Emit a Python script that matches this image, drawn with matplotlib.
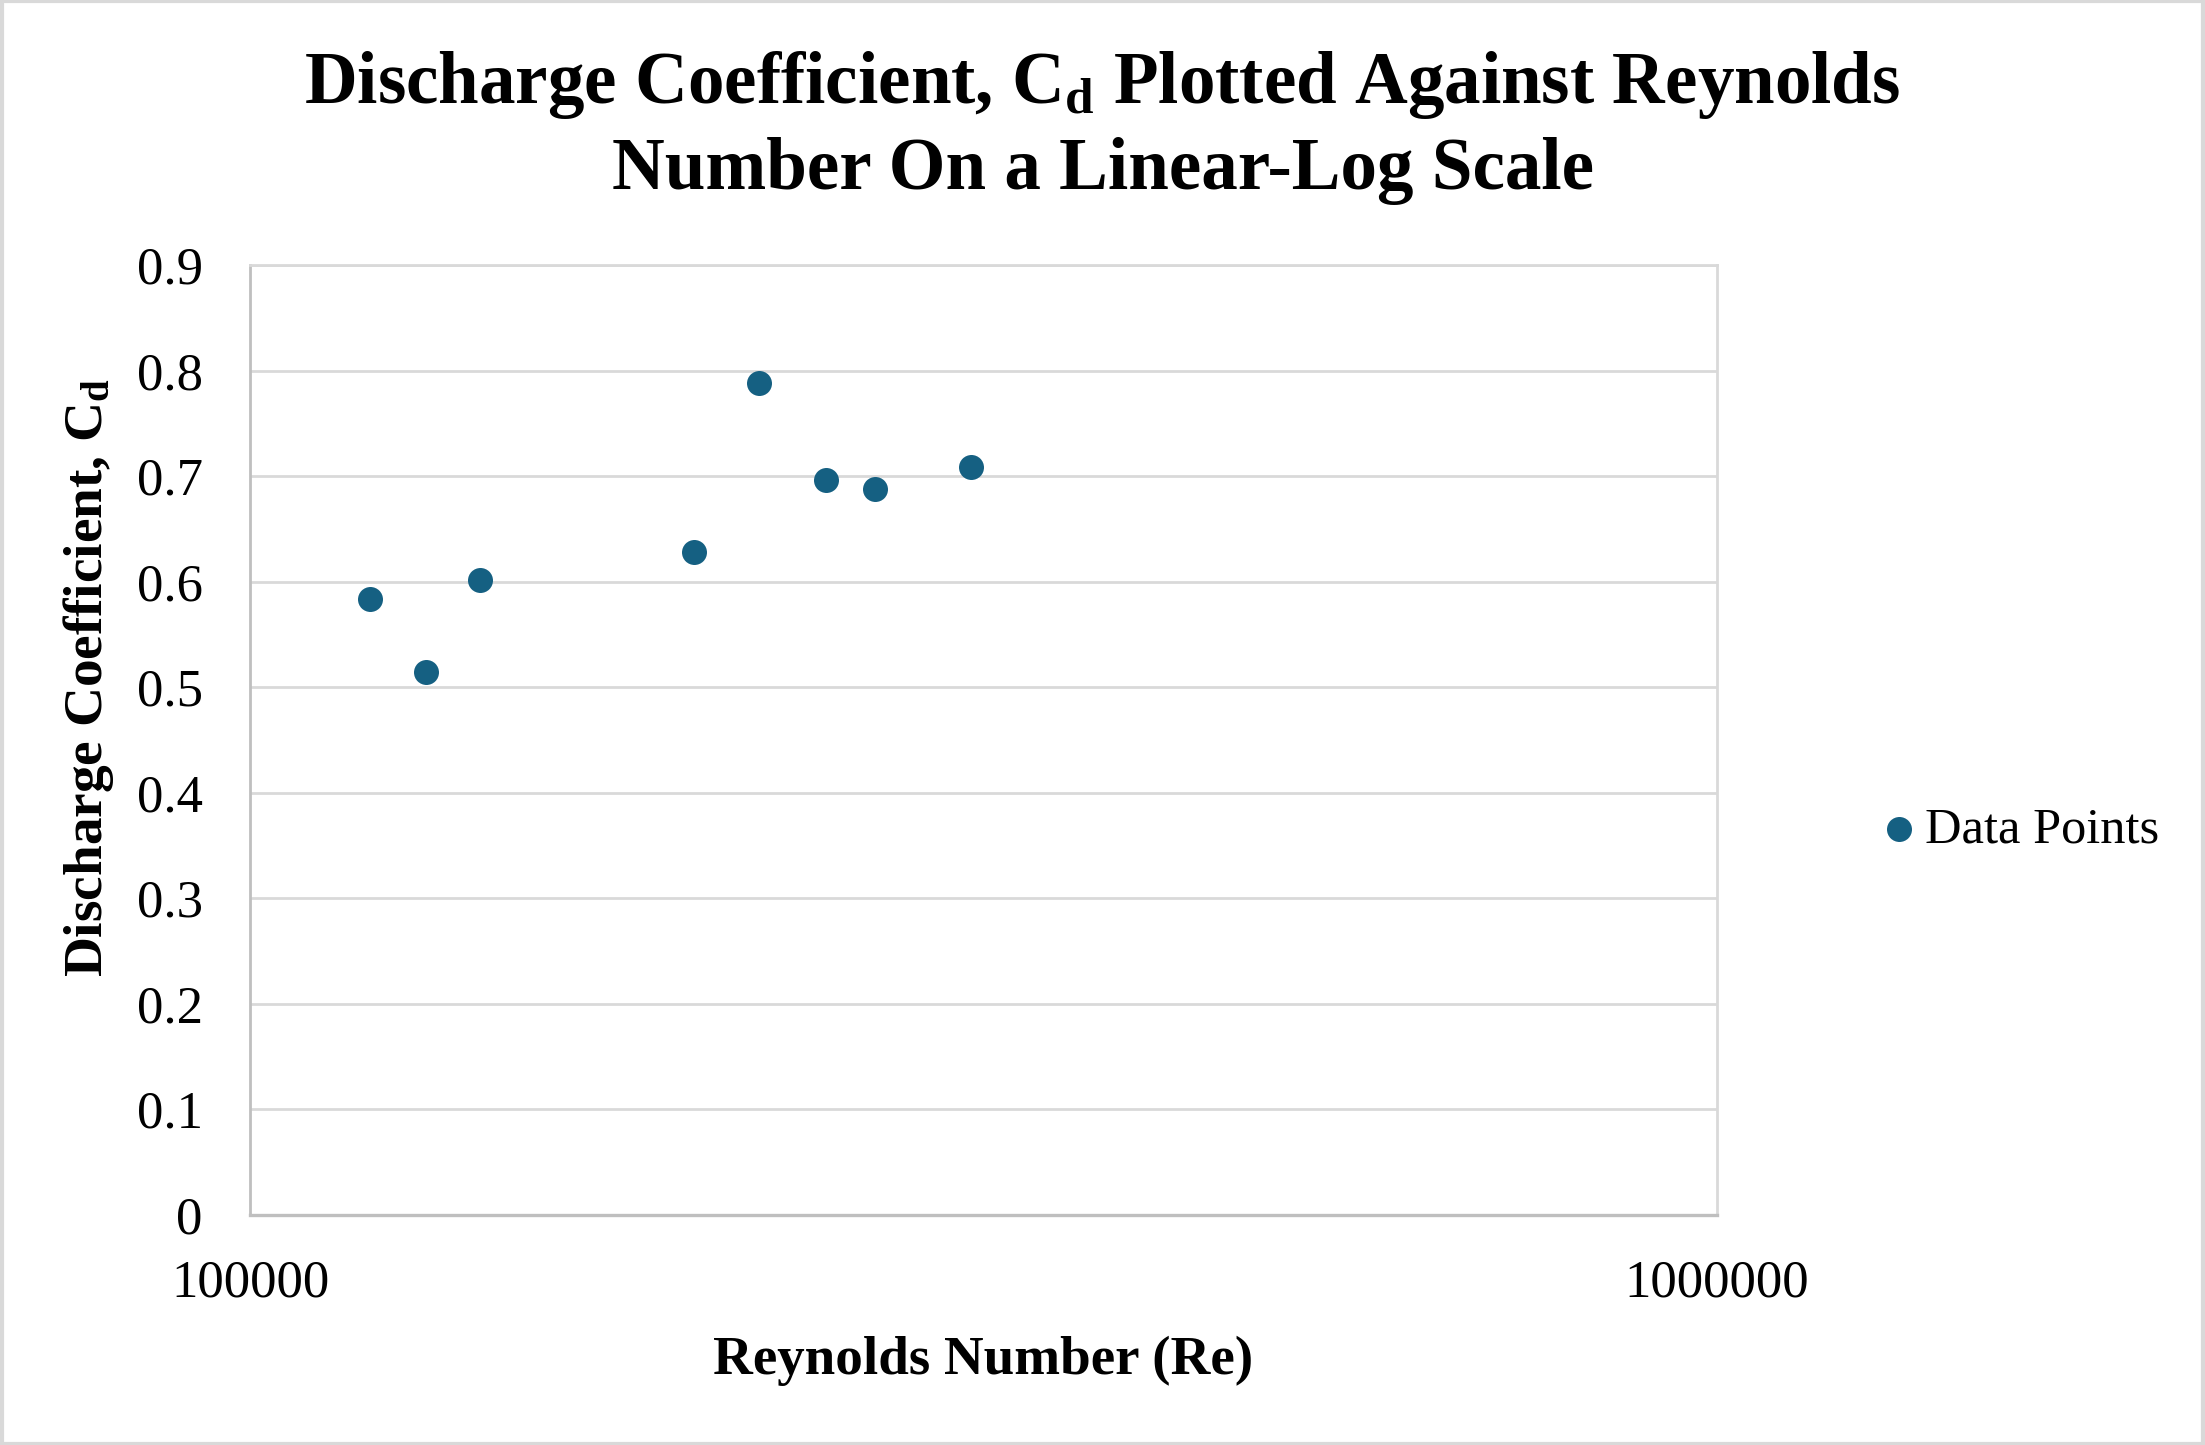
import numpy as np
import matplotlib.pyplot as plt
from matplotlib.patches import Rectangle
from matplotlib.ticker import FixedLocator, FixedFormatter, NullLocator

# Values
reynolds = [120800, 131900, 143500, 200800, 222400, 247100, 266800, 310100]
cd_values = [0.584, 0.514, 0.602, 0.628, 0.788, 0.696, 0.688, 0.709]
x_ticks = [100000, 1000000]
x_tick_labels = ['100000', '1000000']
y_ticks = [0, 0.1, 0.2, 0.3, 0.4, 0.5, 0.6, 0.7, 0.8, 0.9]
y_tick_labels = ['0', '0.1', '0.2', '0.3', '0.4', '0.5', '0.6', '0.7', '0.8', '0.9']

plt.rcParams['font.family'] = ['Liberation Serif', 'DejaVu Serif']
plt.rcParams['mathtext.fontset'] = 'custom'
plt.rcParams['mathtext.rm'] = 'Liberation Serif'
plt.rcParams['mathtext.bf'] = 'Liberation Serif:bold'
plt.rcParams['mathtext.it'] = 'Liberation Serif:italic'

marker_color = '#156082'
grid_color = '#d9d9d9'

fig = plt.figure(figsize=(11.025, 7.225), dpi=200)
ax = fig.add_axes([0.1134, 0.1592, 0.6653, 0.6574])

ax.scatter(reynolds, cd_values, s=81, color=marker_color, zorder=3,
           linewidths=0, label='Data Points')

ax.set_xscale('log')
ax.set_xlim(1e5, 1e6)
ax.set_ylim(0, 0.9)
ax.xaxis.set_major_locator(FixedLocator(x_ticks))
ax.xaxis.set_major_formatter(FixedFormatter(x_tick_labels))
ax.xaxis.set_minor_locator(NullLocator())
ax.set_yticks(y_ticks)
ax.set_yticklabels(y_tick_labels)
ax.tick_params(axis='both', length=0, labelsize=19)
ax.tick_params(axis='x', pad=16)
ax.tick_params(axis='y', pad=17)

ax.grid(axis='y', color=grid_color, linewidth=1.0, zorder=0)
for side in ['top', 'right', 'left']:
    ax.spines[side].set_color(grid_color)
    ax.spines[side].set_linewidth(1.0)
ax.spines['left'].set_color('#bfbfbf')
ax.spines['bottom'].set_color('#bfbfbf')
ax.spines['bottom'].set_linewidth(1.2)

fig.text(0.5, 0.912,
         'Discharge Coefficient, C$_\\mathbf{d}$ Plotted Against Reynolds\n'
         'Number On a Linear-Log Scale',
         ha='center', va='center', fontsize=26.3, fontweight='bold',
         linespacing=1.32)

fig.text(0.446, 1 - 1361 / 1445, 'Reynolds Number (Re)', ha='center',
         va='center', fontsize=19.8, fontweight='bold')
fig.text(0.040, 0.531, 'Discharge Coefficient, C$_\\mathbf{d}$', ha='center',
         va='center', rotation=90, fontsize=19.9, fontweight='bold')

ax.legend(loc='center left', bbox_to_anchor=(0.846, 1 - 830 / 1445),
          bbox_transform=fig.transFigure, frameon=False, fontsize=18.2,
          handlelength=0.52, handletextpad=0.26, borderaxespad=0,
          markerscale=1.0)

fig.patches.append(Rectangle((0.001, 0.001), 0.998, 0.998,
                             transform=fig.transFigure, fill=False,
                             edgecolor='#d9d9d9', linewidth=1.5))

fig.savefig('out.png', dpi=200, facecolor='white')
